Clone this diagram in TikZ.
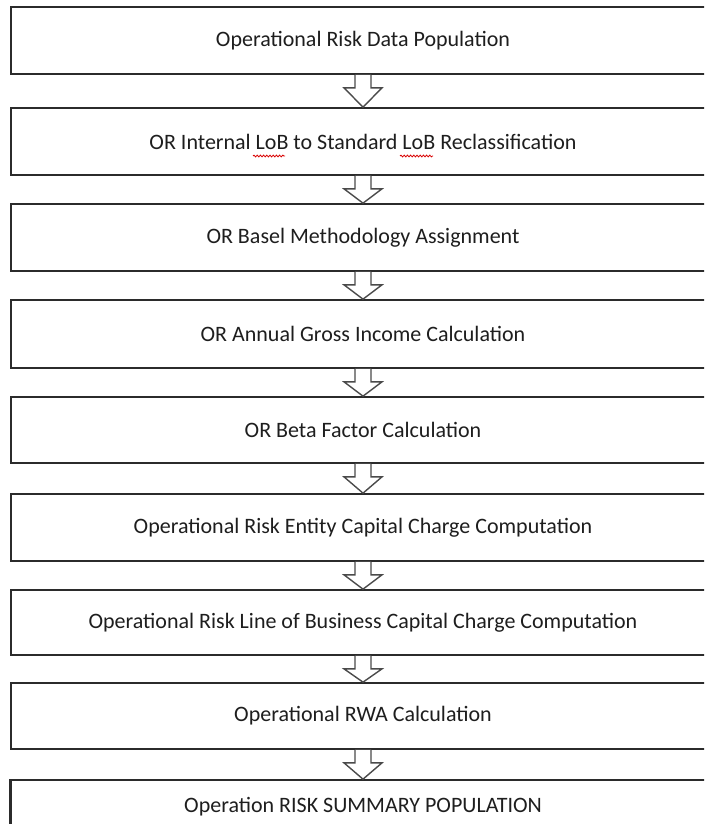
\documentclass[tikz,border=0pt]{standalone}
\usepackage{fontspec}
\setmainfont{Carlito}
\usetikzlibrary{calc,decorations.pathmorphing}
\definecolor{boxline}{HTML}{2B2B2B}
\definecolor{arrline}{HTML}{4A4A4A}
\definecolor{txt}{HTML}{1E1E1E}
\tikzset{
  stepbox/.style={draw=boxline, line width=1.7pt, fill=white, minimum width=704pt,
    inner sep=0pt, text=txt, font=\fontsize{22}{26}\selectfont},
  flowarrow/.style={draw=arrline, line width=1.4pt, fill=white, line join=miter},
  squiggle/.style={draw=red!85!black, line width=0.8pt,
    decorate, decoration={snake, amplitude=0.9pt, segment length=3.2pt}}
}
\newcommand{\flowarr}[2]{%
  \draw[flowarrow] ($(#1.south)+(-8,0)$) -- ($(#1.south)+(-8,13)$) -- ($(#1.south)+(-19,13)$)
    -- (#2.north) -- ($(#1.south)+(19,13)$) -- ($(#1.south)+(8,13)$) -- ($(#1.south)+(8,0)$);}
\begin{document}
\begin{tikzpicture}[x=1pt,y=-1pt]
\useasboundingbox (0,0) rectangle (704,824);
\clip (0,0) rectangle (704,824);
\fill[white] (0,0) rectangle (704,824);
\node[stepbox, minimum height=67pt] (b1) at (363,40.5) {Operational Risk Data Population};
\node[stepbox, minimum height=67pt] (b2) at (363,141.5) {OR Internal LoB to Standard LoB Reclassification};
\node[stepbox, minimum height=67pt] (b3) at (363,237.5) {OR Basel Methodology Assignment};
\node[stepbox, minimum height=68pt] (b4) at (363,334) {OR Annual Gross Income Calculation};
\node[stepbox, minimum height=66pt] (b5) at (363,430) {OR Beta Factor Calculation};
\node[stepbox, minimum height=67pt] (b6) at (363,527.5) {Operational Risk Entity Capital Charge Computation};
\node[stepbox, minimum height=65pt] (b7) at (363,622.5) {Operational Risk Line of Business Capital Charge Computation};
\node[stepbox, minimum height=66pt] (b8) at (363,716) {Operational RWA Calculation};
\node[stepbox, minimum height=54pt] (b9) at (363,807) {Operation RISK SUMMARY POPULATION};
\draw[boxline, line width=1.7pt] (b9.north west) -- (b9.south west);
\flowarr{b1}{b2}
\flowarr{b2}{b3}
\flowarr{b3}{b4}
\flowarr{b4}{b5}
\flowarr{b5}{b6}
\flowarr{b6}{b7}
\flowarr{b7}{b8}
\flowarr{b8}{b9}
\draw[squiggle] (253,156) -- (285,156);
\draw[squiggle] (400,156) -- (433,156);
\end{tikzpicture}
\end{document}
